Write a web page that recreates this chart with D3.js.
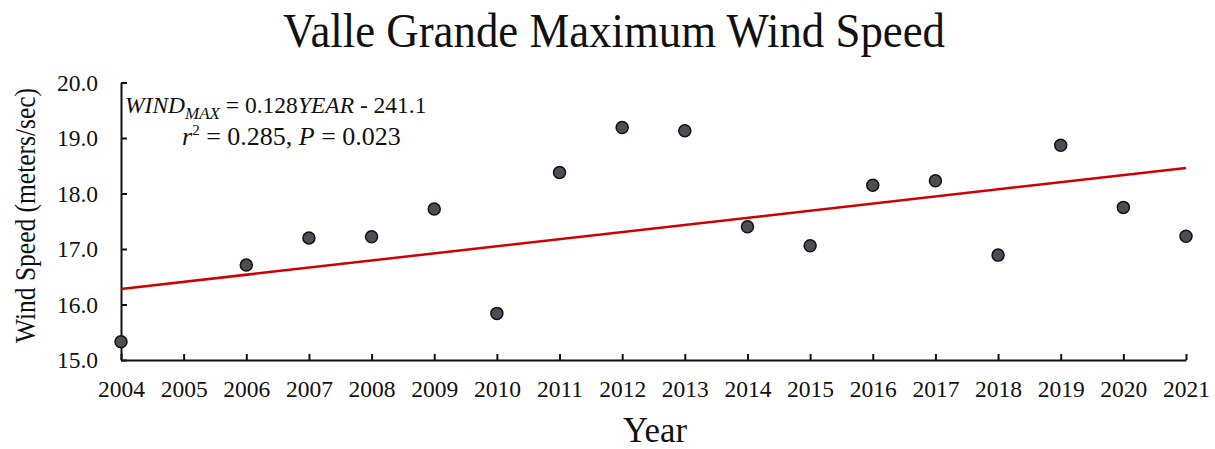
<!DOCTYPE html>
<html><head><meta charset="utf-8">
<script src="https://cdn.jsdelivr.net/npm/d3@7"></script>
<style>body{margin:0;background:#fff}svg{display:block}text{font-family:"Liberation Serif","Times New Roman",serif;fill:#111}</style>
</head><body>
<script>
const years = [2004,2006,2007,2008,2009,2010,2011,2012,2013,2014,2015,2016,2017,2018,2019,2020,2021];
const windMax = [15.33,16.71,17.2,17.22,17.72,15.84,18.38,19.19,19.13,17.4,17.06,18.15,18.23,16.89,18.87,17.75,17.23];
const trendYears = [2004,2021];
const trendValues = [16.28,18.46];
const xTicks = d3.range(2004,2022);
const yTicks = [15,16,17,18,19,20];

const W=1215,H=449;
const m={left:121,right:1215-1186,top:82.5,bottom:449-360};
const svg=d3.select("body").append("svg").attr("width",W).attr("height",H);
const x=d3.scaleLinear().domain([2004,2021]).range([m.left,W-m.right]);
const y=d3.scaleLinear().domain([15,20]).range([H-m.bottom,m.top]);

svg.append("text").attr("x",283).attr("y",47).style("font-size","48px")
 .attr("textLength",662).attr("lengthAdjust","spacingAndGlyphs").text("Valle Grande Maximum Wind Speed");

const xa=svg.append("g").attr("transform",`translate(0,${H-m.bottom})`)
 .call(d3.axisBottom(x).tickValues(xTicks).tickFormat(d3.format("d")).tickSizeInner(-6).tickSizeOuter(0).tickPadding(20));
const ya=svg.append("g").attr("transform",`translate(${m.left},0)`)
 .call(d3.axisLeft(y).tickValues(yTicks).tickFormat(d3.format(".1f")).tickSizeInner(-6).tickSizeOuter(0).tickPadding(23));
[xa,ya].forEach(a=>{a.select(".domain").attr("stroke","#111").attr("stroke-width",2);
 a.selectAll(".tick line").attr("stroke","#111").attr("stroke-width",2);
 a.selectAll(".tick text").style("font-size","23.5px").attr("fill","#111").style("font-family","'Liberation Serif',serif");});

svg.append("text").attr("transform",`translate(35,343) rotate(-90)`).style("font-size","29px")
 .attr("textLength",255).attr("lengthAdjust","spacingAndGlyphs").text("Wind Speed (meters/sec)");
svg.append("text").attr("x",623).attr("y",442).style("font-size","35px")
 .attr("textLength",64).attr("lengthAdjust","spacingAndGlyphs").text("Year");

svg.append("line").attr("x1",x(trendYears[0])).attr("y1",y(trendValues[0])).attr("x2",x(trendYears[1])).attr("y2",y(trendValues[1]))
 .attr("stroke","#d00000").attr("stroke-width",2.5);

svg.selectAll("circle").data(years).join("circle").attr("cx",d=>x(d)).attr("cy",(d,i)=>y(windMax[i])).attr("r",6)
 .attr("fill","#4a4f55").attr("stroke","#111").attr("stroke-width",1.5);

const eq=svg.append("text").attr("x",125).attr("y",113).style("font-size","23.5px");
eq.append("tspan").style("font-style","italic").text("WIND");
eq.append("tspan").style("font-style","italic").style("font-size","17px").attr("dy",6).text("MAX");
eq.append("tspan").attr("dy",-6).text(" = 0.128");
eq.append("tspan").style("font-style","italic").text("YEAR");
eq.append("tspan").text("  - 241.1");
const eq2=svg.append("text").attr("x",182).attr("y",145).style("font-size","26px");
eq2.append("tspan").style("font-style","italic").text("r");
eq2.append("tspan").style("font-size","15px").attr("dy",-10).text("2");
eq2.append("tspan").attr("dy",10).text(" = 0.285,  ");
eq2.append("tspan").style("font-style","italic").text("P");
eq2.append("tspan").text(" = 0.023");
</script>
</body></html>
